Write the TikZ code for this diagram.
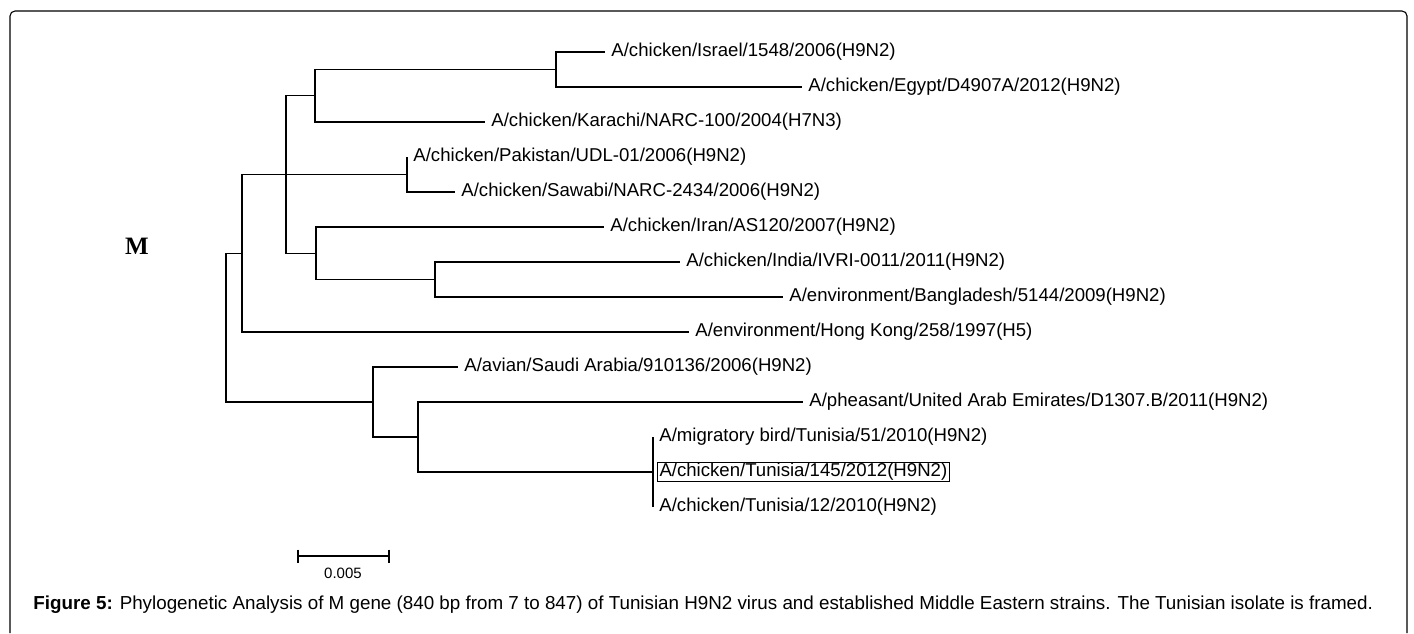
\documentclass[tikz,border=0pt]{standalone}
\usepackage{fontspec}
\setmainfont{Liberation Sans}
\newfontfamily\serifM{Liberation Serif}
\usepackage{tikz}

\begin{document}
\begin{tikzpicture}[x=0.5pt, y=-0.5pt, every node/.style={font=\fontsize{9.3}{11}\selectfont},
	leaf/.style={anchor=west, inner sep=3pt}, branch/.style={line width=0.65pt}]
	\useasboundingbox (0,0) rectangle (1414,633);
	\draw[line width=0.55pt, rounded corners=2.5pt] (10,633) -- (10,11) -- (1407,11) -- (1407,633);
	% taxa
	\node[leaf] (israel) at (605,52) {A/chicken/Israel/1548/2006(H9N2)};
	\node[leaf] (egypt) at (802,87) {A/chicken/Egypt/D4907A/2012(H9N2)};
	\node[leaf] (karachi) at (485,122) {A/chicken/Karachi/NARC-100/2004(H7N3)};
	\node[leaf] (pakistan) at (407,157) {A/chicken/Pakistan/UDL-01/2006(H9N2)};
	\node[leaf] (sawabi) at (455,192) {A/chicken/Sawabi/NARC-2434/2006(H9N2)};
	\node[leaf] (iran) at (604,227) {A/chicken/Iran/AS120/2007(H9N2)};
	\node[leaf] (india) at (680,262) {A/chicken/India/IVRI-0011/2011(H9N2)};
	\node[leaf] (bangla) at (783,297) {A/environment/Bangladesh/5144/2009(H9N2)};
	\node[leaf] (hongkong) at (689,332) {A/environment/Hong Kong/258/1997(H5)};
	\node[leaf] (saudi) at (458,367) {A/avian/Saudi Arabia/910136/2006(H9N2)};
	\node[leaf] (pheasant) at (803,402) {A/pheasant/United Arab Emirates/D1307.B/2011(H9N2)};
	\node[leaf] (migratory) at (653,437) {A/migratory bird/Tunisia/51/2010(H9N2)};
	\node[draw, anchor=west, inner xsep=1pt, inner ysep=0.6pt, line width=0.5pt] (tun145) at (657,472) {A/chicken/Tunisia/145/2012(H9N2)};
	\node[leaf] (tun12) at (653,507) {A/chicken/Tunisia/12/2010(H9N2)};
	% internal nodes
	\coordinate (ie) at (556,69.5);
	\coordinate (iek) at (315,95.75);
	\coordinate (ps) at (407,174.5);
	\coordinate (ib) at (435,279.5);
	\coordinate (iib) at (316,253.25);
	\coordinate (a) at (286,174.5);
	\coordinate (b) at (242,253.25);
	\coordinate (t) at (653,472);
	\coordinate (pt) at (418,437);
	\coordinate (s) at (373,402);
	\coordinate (root) at (226,327.6);
	\foreach \p/\c in {ie/israel.west, ie/egypt.west, iek/ie, iek/karachi.west,
		ps/pakistan.west, ps/sawabi.west, ib/india.west, ib/bangla.west,
		iib/iran.west, iib/ib, a/iek, a/ps, a/iib, b/a, b/hongkong.west,
		t/migratory.west, t/tun12.west, pt/pheasant.west, pt/t,
		s/saudi.west, s/pt, root/b, root/s}
		\draw[branch] (\p) |- (\c);
	% scale bar
	\coordinate (sbl) at (298,556);
	\coordinate (sbr) at (389,556);
	\draw[branch] (sbl) -- (sbr);
	\foreach \e in {sbl,sbr}
		\draw[branch] (\e) ++(0,-6.5) -- ++(0,13);
	\node[font=\fontsize{7.5}{9}\selectfont] (sbtext) at (343,573) {0.005};
	\node[font=\serifM\bfseries\fontsize{12.5}{14}\selectfont] (genelabel) at (137,246) {M};
	\node[anchor=west, inner sep=0pt, font=\fontsize{9.4}{11}\selectfont] (caption) at (33,605) {\textbf{Figure 5:} Phylogenetic Analysis of M gene (840 bp from 7 to 847) of Tunisian H9N2 virus and established Middle Eastern strains. The Tunisian isolate is framed.};
\end{tikzpicture}
\end{document}
